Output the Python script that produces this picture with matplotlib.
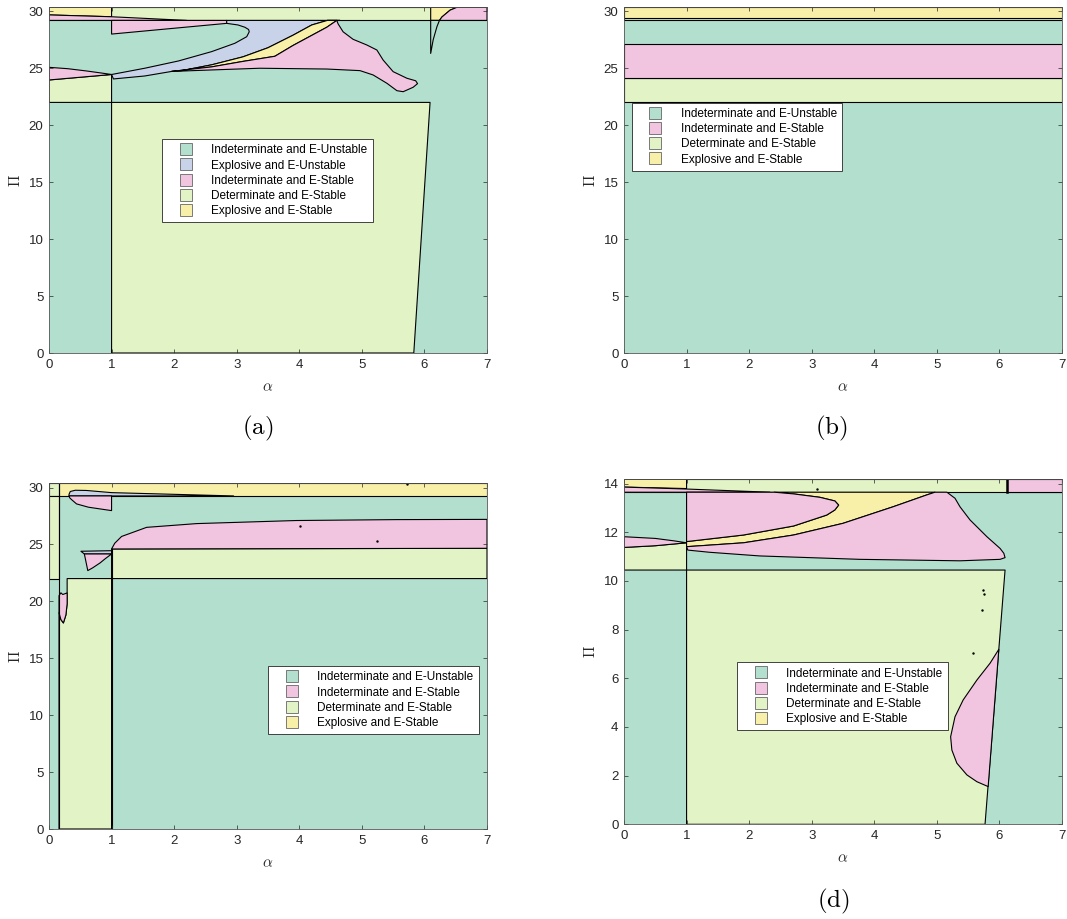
import matplotlib
matplotlib.use('Agg')
import matplotlib.pyplot as plt
from matplotlib.patches import Polygon
from matplotlib.lines import Line2D

plt.rcParams['font.family'] = ['Liberation Sans', 'DejaVu Sans']
plt.rcParams['mathtext.fontset'] = 'cm'

# ---------------- categories ----------------
LBL_IU = 'Indeterminate and E-Unstable'
LBL_XU = 'Explosive and E-Unstable'
LBL_IS = 'Indeterminate and E-Stable'
LBL_DS = 'Determinate and E-Stable'
LBL_XS = 'Explosive and E-Stable'
COLORS = {LBL_IU: '#b3dfcf', LBL_XU: '#c8d3ea', LBL_IS: '#f1c4df',
          LBL_DS: '#e2f3c6', LBL_XS: '#f8f0a8'}

alpha_ticks = [0, 1, 2, 3, 4, 5, 6, 7]
pi_ticks_30 = [0, 5, 10, 15, 20, 25, 30]
pi_ticks_14 = [0, 2, 4, 6, 8, 10, 12, 14]
panel_labels = ['(a)', '(b)', '', '(d)']

# ---------------- panel (a) region boundaries (alpha, Pi) ----------------
a_top_band = [(0, 29.2), (7, 29.2), (7, 30.35), (0, 30.35)]
a_top_left_yellow = [(0, 29.68), (1, 29.52), (1, 30.35), (0, 30.35)]
a_top_left_pink = [(0, 29.2), (2.2, 29.2), (1, 29.52), (0, 29.68)]
a_top_right_yellow = [(6.1, 29.2), (6.1, 30.35), (6.52, 30.35), (6.41, 30.1), (6.28, 29.5), (6.24, 29.2)]
a_top_right_pink = [(6.24, 29.2), (6.28, 29.5), (6.41, 30.1), (6.52, 30.35), (7, 30.35), (7, 29.2)]
a_spike = [(6.1, 29.2), (6.1, 26.3), (6.14, 27.5), (6.2, 28.65), (6.24, 29.2)]
a_det_box = [(1, 0), (5.83, 0), (6.09, 22), (1, 22)]
a_det_left = [(0, 22), (1, 22), (1, 24.45), (0, 23.97)]
a_pink_lens = [(0, 23.97), (1, 24.45), (0.85, 24.57), (0.6, 24.76), (0.3, 24.96), (0, 25.08)]
a_pink_wedge = [(1, 28.0), (2.84, 28.94), (2.84, 29.2), (1, 29.2)]
a_lavender = [(1.0, 24.45), (1.03, 24.06), (1.53, 24.32), (1.96, 24.72), (2.12, 24.79), (2.6, 25.3),
              (3.1, 26.0), (3.5, 26.8), (3.9, 27.9), (4.2, 28.8), (4.45, 29.2), (4.65, 29.2),
              (2.84, 29.2), (2.84, 28.94), (3.02, 28.8), (3.13, 28.6), (3.19, 28.4), (3.2, 28.2),
              (3.16, 27.77), (2.97, 27.19), (2.6, 26.46), (2.07, 25.64), (1.53, 25.0)]
a_yellow_band = [(1.96, 24.72), (2.12, 24.79), (2.6, 25.3), (3.1, 26.0), (3.5, 26.8), (3.9, 27.9),
                 (4.2, 28.8), (4.45, 29.2), (4.6, 29.2), (4.44, 28.6), (3.9, 27.0), (3.61, 26.05),
                 (3.1, 25.6), (2.6, 25.12)]
a_pink_big = [(1.96, 24.72), (2.6, 25.12), (3.1, 25.6), (3.61, 26.05), (3.9, 27.0), (4.44, 28.6),
              (4.6, 29.2), (4.62, 28.9), (4.70, 28.2), (4.86, 27.54), (5.08, 27.04), (5.24, 26.6),
              (5.34, 25.72), (5.50, 24.7), (5.72, 24.12), (5.86, 23.9), (5.89, 23.65), (5.82, 23.33),
              (5.66, 22.94), (5.56, 23.03), (5.40, 23.68), (5.18, 24.41), (4.97, 24.79), (4.44, 24.93),
              (3.37, 25.0), (2.6, 24.85)]

# ---------------- panel (b) horizontal bands ----------------
b_band_low = [22.0, 24.15, 29.2, 29.4]
b_band_high = [24.15, 27.15, 29.4, 30.35]
b_band_kind = [LBL_DS, LBL_IS, LBL_DS, LBL_XS]

# ---------------- panel (c) region boundaries ----------------
c_top_yellow = [(0, 29.26), (7, 29.26), (7, 30.37), (0, 30.37)]
c_strip_top = [(0, 29.26), (0.16, 29.26), (0.16, 30.37), (0, 30.37)]
c_strip_low = [(0, 22), (0.16, 22), (0.16, 29.26), (0, 29.26)]
c_flag_top = [(0.32, 29.26), (0.32, 29.4), (0.34, 29.65), (0.42, 29.76), (0.6, 29.74),
              (1.0, 29.55), (2.95, 29.26)]
c_flag_pink = [(0.32, 29.26), (0.33, 29.1), (0.36, 28.94), (0.44, 28.56), (0.63, 28.27),
               (1.0, 27.97), (1.0, 29.26)]
c_det_low = [(0.16, 0), (1, 0), (1, 22), (0.29, 22), (0.29, 20.74), (0.29, 19.8), (0.27, 18.8),
             (0.23, 18.1), (0.19, 18.4), (0.16, 19.0)]
c_pink_lens = [(0.16, 20.5), (0.19, 20.75), (0.22, 20.6), (0.29, 20.74), (0.29, 19.8), (0.27, 18.8),
               (0.23, 18.1), (0.19, 18.4), (0.16, 19.0)]
c_det_band = [(1, 22), (7, 22), (7, 24.66), (1, 24.6)]
c_pink_band = [(1, 24.6), (7, 24.66), (7, 27.2), (5.55, 27.18), (3.95, 27.1), (2.36, 26.83),
               (1.56, 26.5), (1.16, 25.7), (1.05, 25.1)]
c_arrow_sliver = [(0.51, 24.4), (1.0, 24.45), (1.0, 24.16), (0.565, 24.16)]
c_arrow_pink = [(0.565, 24.16), (1.0, 24.16), (0.9, 23.75), (0.815, 23.37), (0.7, 22.95), (0.62, 22.7)]
c_dots_alpha = [4.01, 5.24, 5.72]
c_dots_pi = [26.62, 25.3, 30.29]

# ---------------- panel (d) region boundaries ----------------
d_top_band = [(0, 13.65), (7, 13.65), (7, 14.18), (0, 14.18)]
d_top_left_yellow = [(0, 13.86), (1, 13.8), (1, 14.18), (0, 14.18)]
d_top_left_pink = [(0, 13.65), (2.33, 13.65), (1, 13.78), (0, 13.86)]
d_top_right_pink = [(6.12, 13.65), (7, 13.65), (7, 14.18), (6.12, 14.18)]
d_det_left = [(0, 10.45), (1, 10.45), (1, 11.57), (0.5, 11.45), (0, 11.38)]
d_pink_lens = [(0, 11.38), (0.5, 11.45), (1, 11.57), (0.8, 11.65), (0.5, 11.75), (0, 11.82)]
d_det_box = [(1, 0), (5.77, 0), (6.09, 10.45), (1, 10.45)]
d_pink_low = [(5.82, 1.55), (5.64, 1.75), (5.48, 2.03), (5.32, 2.51), (5.24, 3.05), (5.22, 3.6),
              (5.29, 4.42), (5.42, 5.11), (5.64, 5.93), (5.85, 6.62), (5.99, 7.19)]
d_pink_ellipse = [(1, 11.62), (1.91, 11.89), (2.71, 12.26), (3.24, 12.71), (3.37, 12.92), (3.43, 13.12),
                  (3.37, 13.29), (3.13, 13.44), (2.71, 13.58), (2.4, 13.65), (1, 13.65)]
d_yellow = [(1, 11.62), (1.91, 11.89), (2.71, 12.26), (3.24, 12.71), (3.37, 12.92), (3.43, 13.12),
            (3.37, 13.29), (3.13, 13.44), (2.71, 13.58), (2.4, 13.65), (4.97, 13.65), (4.83, 13.53),
            (4.3, 13.05), (3.5, 12.37), (2.71, 11.89), (1.91, 11.57), (1, 11.41)]
d_pink_big = [(1, 11.41), (1.91, 11.57), (2.71, 11.89), (3.5, 12.37), (4.3, 13.05), (4.83, 13.53),
              (4.97, 13.65), (5.16, 13.65), (5.29, 13.4), (5.37, 13.05), (5.53, 12.51), (5.8, 11.82),
              (6.01, 11.34), (6.07, 11.14), (6.09, 10.96), (6.01, 10.89), (5.37, 10.83), (3.77, 10.89),
              (2.17, 11.03), (1.37, 11.18), (1.02, 11.27)]
d_dots_alpha = [3.08, 5.74, 5.75, 5.72, 5.57]
d_dots_pi = [13.77, 9.65, 9.47, 8.8, 7.03]

# ---------------- assemble ----------------
panel_a_regions = [(LBL_DS, a_top_band), (LBL_XS, a_top_left_yellow), (LBL_IS, a_top_left_pink),
                   (LBL_XS, a_top_right_yellow), (LBL_IS, a_top_right_pink), (LBL_IU, a_spike),
                   (LBL_DS, a_det_box), (LBL_DS, a_det_left), (LBL_IS, a_pink_lens),
                   (LBL_IS, a_pink_wedge), (LBL_XU, a_lavender), (LBL_XS, a_yellow_band),
                   (LBL_IS, a_pink_big)]
panel_b_regions = [(k, [(0, lo), (7, lo), (7, hi), (0, hi)])
                   for lo, hi, k in zip(b_band_low, b_band_high, b_band_kind)]
panel_c_regions = [(LBL_XS, c_top_yellow), (LBL_DS, c_strip_top), (LBL_DS, c_strip_low),
                   (LBL_XU, c_flag_top), (LBL_IS, c_flag_pink), (LBL_DS, c_det_low),
                   (LBL_IS, c_pink_lens), (LBL_DS, c_det_band), (LBL_IS, c_pink_band),
                   (LBL_XU, c_arrow_sliver), (LBL_IS, c_arrow_pink)]
panel_d_regions = [(LBL_DS, d_top_band), (LBL_XS, d_top_left_yellow), (LBL_IS, d_top_left_pink),
                   (LBL_IS, d_top_right_pink), (LBL_DS, d_det_left), (LBL_IS, d_pink_lens),
                   (LBL_DS, d_det_box), (LBL_IS, d_pink_low), (LBL_XS, d_yellow),
                   (LBL_IS, d_pink_ellipse), (LBL_IS, d_pink_big)]

legend_a = [LBL_IU, LBL_XU, LBL_IS, LBL_DS, LBL_XS]
legend_bcd = [LBL_IU, LBL_IS, LBL_DS, LBL_XS]

fig = plt.figure(figsize=(10.67, 9.19), dpi=100)

W = 438 / 1067
axes_rects = [
    (49 / 1067, 1 - 353 / 919, W, 345.7 / 919),
    (624 / 1067, 1 - 353 / 919, W, 345.7 / 919),
    (49 / 1067, 1 - 829 / 919, W, 345.7 / 919),
    (624 / 1067, 1 - 824.3 / 919, W, 345.0 / 919),
]
ylims = [(0, 30.35), (0, 30.35), (0, 30.37), (0, 14.18)]
yticks = [pi_ticks_30, pi_ticks_30, pi_ticks_30, pi_ticks_14]
regions = [panel_a_regions, panel_b_regions, panel_c_regions, panel_d_regions]
legends = [legend_a, legend_bcd, legend_bcd, legend_bcd]
legend_anchor = [(0.2587, 0.619), (0.0176, 0.724), (0.5007, 0.4715), (0.2587, 0.4696)]
dots = [None, None, (c_dots_alpha, c_dots_pi), (d_dots_alpha, d_dots_pi)]
label_pos = [(258 / 1067, 1 - 428 / 919), (831 / 1067, 1 - 428 / 919), None, (833 / 1067, 1 - 901 / 919)]

for i in range(4):
    ax = fig.add_axes(axes_rects[i])
    ax.set_facecolor(COLORS[LBL_IU])
    for kind, pts in regions[i]:
        ax.add_patch(Polygon(pts, closed=True, facecolor=COLORS[kind], edgecolor='black',
                             lw=0.8, joinstyle='round', zorder=1))
    if i == 2:
        ax.plot([1, 1], [0, 24.6], color='black', lw=0.8, zorder=1.2)
        ax.plot([0.16, 0.16], [0, 30.37], color='black', lw=0.8, zorder=1.2)
    if i == 3:
        ax.plot([6.12, 6.12], [13.65, 14.18], color='black', lw=1.8, zorder=1.2)
    if dots[i] is not None:
        ax.scatter(dots[i][0], dots[i][1], s=3, color='black', zorder=1.3, linewidths=0)
    ax.set_xlim(0, 7)
    ax.set_ylim(*ylims[i])
    ax.set_xticks(alpha_ticks)
    ax.set_yticks(yticks[i])
    ax.tick_params(direction='in', top=True, right=True, length=3, width=0.5,
                   colors='#262626', labelsize=9.5, pad=4)
    for sp in ax.spines.values():
        sp.set_color('#555555')
        sp.set_linewidth(0.6)
    ax.set_xlabel(r'$\alpha$', fontsize=11, color='#262626', labelpad=7)
    ax.set_ylabel(r'$\Pi$', fontsize=11, color='#262626', labelpad=4)
    handles = [Line2D([], [], linestyle='none', marker='s', markersize=8,
                      markerfacecolor=COLORS[k], markeredgecolor='#666666', markeredgewidth=0.6)
               for k in legends[i]]
    leg = ax.legend(handles, legends[i], loc='upper left', bbox_to_anchor=legend_anchor[i],
                    borderaxespad=0, fontsize=8.5, frameon=True, fancybox=False,
                    edgecolor='#262626', framealpha=1, handlelength=3.1, handletextpad=0.6,
                    labelspacing=0.27, borderpad=0.45)
    leg.get_frame().set_linewidth(0.6)
    if label_pos[i] is not None:
        fig.text(label_pos[i][0], label_pos[i][1], r'$\mathrm{' + panel_labels[i] + '}$',
                 fontsize=18, ha='center', va='center')

fig.savefig('out.png', dpi=100)
